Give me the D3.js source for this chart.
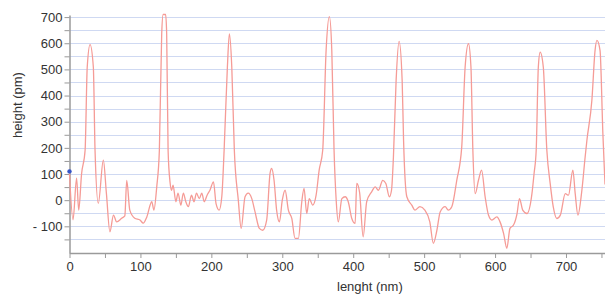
<!DOCTYPE HTML>
<html lang="en">
<head>
    <title>height profile</title>
    <script src="https://d3js.org/d3.v7.min.js"></script>
    <style>
        body { margin: 0; background: white; }
        text { font-family: 'Liberation Sans', Arial, sans-serif; fill: #333; }
        .grid line { stroke: #cfd9f2; stroke-width: 1; }
        .axis path, .axis line { stroke: #9a9a9a; }
    </style>
</head>
<body>
<svg id="chart" width="605" height="295"></svg>
<script>
// profile
const lengths = [0,5,10,13,17,22,25,29,33.6,36,40.6,47.7,52,57,62,66.5,73.6,78,80.7,85,92,99.4,104,109,116,119,123,
  126.7,130,132,135.5,137,139,141.7,144,146,150,153,157,160.5,164,167.6,172,175.6,179,183,186.5,190,194,198,203,206.6,211,214.7,
  218,222.6,225.4,228.8,232.4,238,242,247.5,252,257,261.6,267.7,272.5,278,282.8,285,288.4,292,296,300,304,308.6,313.4,318,322.7,
  327.5,330.7,334.5,338,343,347.7,352,357,361.8,366.4,369.8,373,376,379,384,388.6,393,398,402.7,405,409,414,419,426,431,435.5,
  441.7,446,451,454,456.7,460.5,464.7,469,471,475.6,482.6,487,494,501,508,513,518,522.6,529.6,534,539,546,553,557.8,562.5,566,
  568.7,572,576.6,581,586,590.7,595.5,602.5,607,612,616.6,621,626,631,634.4,639,645,652,655,658,661,663.6,668,673,677.7,682,687,
  692,699,703.5,709.7,713,716.8,722.4,727,729.5,736.5,741,743.6,748,752,755];
const heights = [100,-75,84,-38,100,191,509,595,509,191,-12,153,27,-121,-57,-83,-69,-60,76,-38,-69,-76,-88,-64,-6,-38,51,
  191,636,710,710,636,191,70,38,57,-6,27,-19,27,-6,-25,19,-6,27,6,27,-6,19,38,70,-13,-38,13,
  191,509,636,509,191,0,-108,13,27,6,-45,-108,-115,-76,103,121,76,-38,-83,0,38,-38,-70,-146,-146,
  -6,45,-51,6,-19,19,115,191,573,702,573,191,0,-83,6,13,-6,-70,-89,64,30,-140,-6,32,51,38,
  76,64,13,38,165,458,607,458,229,13,-19,-38,-25,-38,-83,-165,-115,-45,-25,-38,-25,76,203,509,598,509,
  191,25,76,115,13,-57,-76,-64,-83,-127,-184,-108,-95,-51,6,-38,-51,25,102,191,509,566,509,191,64,-25,-70,
  -57,25,19,115,25,-57,38,165,229,382,573,611,573,255,60];

const xTicks = [0,100,200,300,400,500,600,700];
const yTicks = [-100,0,100,200,300,400,500,600,700];
const yGrid = d3.range(-150, 701, 50);
const startMark = [0, 110];

const svg = d3.select("#chart");
const mLeft = 69.5, mRight = 605, mTop = 15, mBottom = 253;

let x = d3.scaleLinear().domain([0, 755]).range([mLeft, mRight]);
let y = d3.scaleLinear().domain([-202, 708]).range([mBottom, mTop]);

// horizontal grid every 50
svg.append("g").attr("class","grid")
   .selectAll("line").data(yGrid)
   .join("line")
   .attr("x1", mLeft).attr("x2", mRight)
   .attr("y1", d => Math.round(y(d)) + 0.5)
   .attr("y2", d => Math.round(y(d)) + 0.5);

// y axis, minor ticks on the 50s
let yAxis = svg.append("g").attr("class","axis")
   .attr("transform", "translate(" + mLeft + ",0)")
   .call(d3.axisLeft(y).tickValues(d3.range(-150, 701, 50)).tickSize(5).tickSizeOuter(0)
         .tickFormat(d => yTicks.includes(d) ? (d < 0 ? "- " + Math.abs(d) : d) : ""));
yAxis.select(".domain").style("stroke-width", 1.5);
yAxis.selectAll("text").style("font-size", "13px").attr("x", -7);

// x axis
let xAxis = svg.append("g").attr("class","axis")
   .attr("transform", "translate(0," + mBottom + ")")
   .call(d3.axisBottom(x).tickValues(d3.range(0, 751, 50)).tickSize(5).tickSizeOuter(0)
         .tickFormat(d => xTicks.includes(d) ? d : ""));
xAxis.select(".domain").style("stroke-width", 1.5);
xAxis.selectAll("text").style("font-size", "13px").attr("y", 9);

// the profile
let pts = lengths.map((d, i) => [d, heights[i]]);
let line = d3.line().x(d => x(d[0])).y(d => y(d[1])).curve(d3.curveMonotoneX);
svg.append("path").datum(pts)
   .attr("fill", "none")
   .attr("stroke", "#f59b96")
   .attr("stroke-width", 1.3)
   .attr("d", line);

svg.append("circle")
   .attr("cx", x(startMark[0])).attr("cy", y(startMark[1]))
   .attr("r", 2.2).attr("fill", "#3555c8");

// axis titles
svg.append("text").attr("x", 337).attr("y", 291)
   .style("font-size", "13px").text("lenght (nm)");
svg.append("text")
   .attr("transform", "translate(22,105) rotate(-90)")
   .attr("text-anchor", "middle")
   .style("font-size", "13px").text("height (pm)");
</script>
</body>
</html>
